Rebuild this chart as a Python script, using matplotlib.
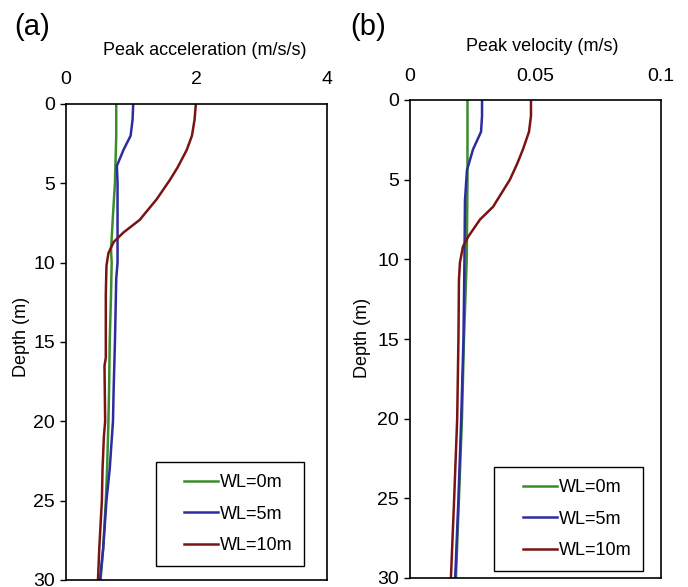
import matplotlib
matplotlib.use("Agg")
import matplotlib.pyplot as plt
from matplotlib.legend_handler import HandlerLine2D

plt.rcParams['font.family'] = ['Liberation Sans', 'DejaVu Sans']

# Panel (a): peak acceleration (m/s/s) vs depth (m)
depth_a_g = [0, 2, 5, 7, 9.2, 10, 12, 15, 18, 20, 23, 25, 28, 30]
acc_wl0 = [0.77, 0.77, 0.75, 0.72, 0.69, 0.70, 0.69, 0.67, 0.66, 0.65, 0.63, 0.61, 0.57, 0.53]
depth_a_b = [0, 1, 2, 2.9, 3.9, 5, 8, 10, 11, 15, 18, 20, 23, 25, 28, 30]
acc_wl5 = [1.03, 1.02, 0.99, 0.88, 0.78, 0.79, 0.79, 0.79, 0.77, 0.75, 0.73, 0.72, 0.67, 0.62, 0.57, 0.52]
depth_a_r = [0, 1, 2, 2.9, 4, 4.8, 6.0, 7.3, 8.1, 8.7, 9.4, 10.2, 12, 16, 16.5, 20, 21, 23, 25, 28, 30]
acc_wl10 = [1.99, 1.97, 1.93, 1.85, 1.71, 1.59, 1.39, 1.13, 0.88, 0.73, 0.65, 0.62, 0.61, 0.61, 0.59, 0.6, 0.58, 0.56, 0.55, 0.51, 0.49]

# Panel (b): peak velocity (m/s) vs depth (m)
depth_b_g = [0, 5, 10, 15, 20, 25, 30]
vel_wl0 = [0.0229, 0.0229, 0.0226, 0.0215, 0.0207, 0.0195, 0.0183]
depth_b_b = [0, 1, 2, 3.1, 4.4, 6.3, 10, 15, 20, 25, 30]
vel_wl5 = [0.0287, 0.0287, 0.0283, 0.0251, 0.0227, 0.0219, 0.0217, 0.0213, 0.0204, 0.0193, 0.018]
depth_b_r = [0, 1, 2, 3.1, 4, 5, 6.7, 7.5, 8.6, 9.2, 10.2, 11.3, 15, 20, 25, 30]
vel_wl10 = [0.0482, 0.0482, 0.0474, 0.045, 0.0427, 0.0398, 0.0331, 0.0279, 0.0231, 0.0211, 0.0199, 0.0195, 0.0193, 0.0188, 0.0176, 0.0163]

labels = ['WL=0m', 'WL=5m', 'WL=10m']
colors = ['#3c8c2c', '#2c2ca0', '#7a1414']


class ShiftedLineHandler(HandlerLine2D):
    """Legend line that only fills the right part of the handle box."""
    def create_artists(self, legend, orig_handle, xdescent, ydescent,
                       width, height, fontsize, trans):
        arts = super().create_artists(legend, orig_handle, xdescent, ydescent,
                                      width, height, fontsize, trans)
        line = arts[0]
        y0 = list(line.get_ydata())[0]
        line.set_data([-xdescent + 0.33 * width, -xdescent + width], [y0, y0])
        return arts


fig = plt.figure(figsize=(6.88, 5.87), dpi=100)
axa = fig.add_axes([66/688, 7/587, 261/688, 476/587])
axb = fig.add_axes([410/688, 9/587, 251/688, 478/587])


def style(ax, xlim, xticks, xticklabels, xlabel, leganchor, xlab_xy, ylab_xy, xpad):
    ax.set_xlim(*xlim)
    ax.set_ylim(30, 0)
    ax.xaxis.set_ticks_position('top')
    ax.xaxis.set_label_position('top')
    ax.set_xticks(xticks)
    ax.set_xticklabels(xticklabels)
    ax.set_yticks([0, 5, 10, 15, 20, 25, 30])
    ax.tick_params(axis='x', length=0, pad=xpad, labelsize=14)
    ax.tick_params(axis='y', length=4, width=1, direction='out', pad=4, labelsize=14)
    ax.set_xlabel(xlabel, fontsize=13, va='center')
    ax.xaxis.set_label_coords(*xlab_xy)
    ax.set_ylabel('Depth (m)', fontsize=13, va='center')
    ax.yaxis.set_label_coords(*ylab_xy)
    for s in ax.spines.values():
        s.set_linewidth(1.2)
    leg = ax.legend(loc='lower right', bbox_to_anchor=leganchor, borderaxespad=0,
                    fontsize=13, handlelength=2.8, handletextpad=0.1,
                    labelspacing=0.8, fancybox=False, framealpha=1,
                    edgecolor='black', borderpad=0.65,
                    handler_map={matplotlib.lines.Line2D: ShiftedLineHandler()})
    leg.get_frame().set_linewidth(1.0)


axa.plot(acc_wl0, depth_a_g, color=colors[0], lw=1.8, label=labels[0])
axa.plot(acc_wl5, depth_a_b, color=colors[1], lw=1.8, label=labels[1])
axa.plot(acc_wl10, depth_a_r, color=colors[2], lw=1.8, label=labels[2])
style(axa, (0, 4), [0, 2, 4], ['0', '2', '4'], 'Peak acceleration (m/s/s)',
      (0.912, 0.03), (0.531, 1.113), (-0.172, 0.51), 11.5)

axb.plot(vel_wl0, depth_b_g, color=colors[0], lw=1.8, label=labels[0])
axb.plot(vel_wl5, depth_b_b, color=colors[1], lw=1.8, label=labels[1])
axb.plot(vel_wl10, depth_b_r, color=colors[2], lw=1.8, label=labels[2])
style(axb, (0, 0.1), [0, 0.05, 0.1], ['0', '0.05', '0.1'], 'Peak velocity (m/s)',
      (0.928, 0.015), (0.526, 1.111), (-0.191, 0.503), 11)

fig.text(14/688, 1 - 27/587, '(a)', fontsize=21, va='center', ha='left')
fig.text(350/688, 1 - 27/587, '(b)', fontsize=21, va='center', ha='left')

fig.savefig('out.png', dpi=100)
